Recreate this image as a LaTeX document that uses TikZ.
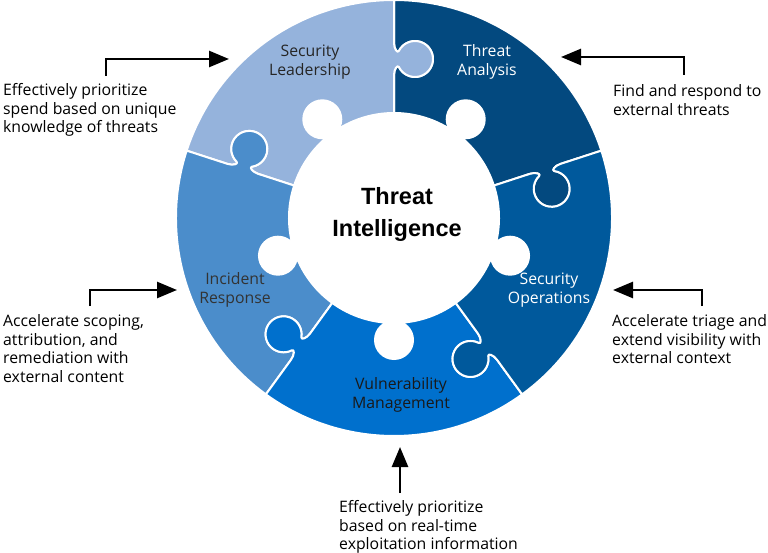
\documentclass[tikz,border=0pt]{standalone}
\usepackage{fontspec}
\setmainfont{Open Sans}
\newfontfamily\headfont{Liberation Sans}
\usetikzlibrary{arrows.meta}
\definecolor{leadblue}{HTML}{95B3DC}
\definecolor{analysisblue}{HTML}{03497F}
\definecolor{opsblue}{HTML}{00599C}
\definecolor{vulnblue}{HTML}{0070CD}
\definecolor{incidentblue}{HTML}{4B8DCB}
% one ring piece: #1 = clockwise edge angle, #2 = colour
\newcommand\puzzlepiece[2]{%
\filldraw[piece,fill=#2]
 {[shift={(394,-218)},rotate=#1] (105,0)--(143,0)
   .. controls (149,0) and (153.7,-3.55) .. (151,-4.88)
   arc[start angle=116.4,end angle=423.6,radius=18]
   .. controls (164.3,-3.55) and (169,0) .. (175,0)--(218,0)}
 arc[start angle=#1,end angle=#1+72,radius=218]
 {[shift={(394,-218)},rotate=#1+72] --(175,0)
   .. controls (169,0) and (164.3,-3.55) .. (167,-4.88)
   arc[start angle=63.6,end angle=-243.6,radius=18]
   .. controls (153.7,-3.55) and (149,0) .. (143,0)--(105,0)}
 arc[start angle=#1+72,end angle=#1,radius=105]--cycle;}
\begin{document}
\begin{tikzpicture}[x=1pt,y=1pt,>={Triangle[length=20pt,width=16pt]},
  piece/.style={draw=white,line width=2pt,line join=round},
  lab/.style={align=center,inner sep=0pt,font=\fontsize{15.8}{19}\selectfont},
  note/.style={align=left,anchor=north west,inner sep=0pt,font=\fontsize{15.8}{18.8}\selectfont},
  arr/.style={->,line width=2.6pt}]
\useasboundingbox (0,0) rectangle (768,-553);
\coordinate (C) at (394,-218);
% ring
\puzzlepiece{18}{analysisblue}
\puzzlepiece{90}{leadblue}
\puzzlepiece{162}{incidentblue}
\puzzlepiece{234}{vulnblue}
\puzzlepiece{306}{opsblue}
% knobs of the centre piece
\foreach \a in {54,126,198,270,342}{
  \fill[white] (C) ++(\a:122) circle[radius=20];
  \fill[white,shift={(C)},rotate=\a] (100,-15) .. controls (105,-13) .. (106,-10)
    -- (106,10) .. controls (105,13) .. (100,15) -- cycle;}
\node[font=\headfont\bfseries\fontsize{23.5}{32}\selectfont,align=center] (title) at (397,-214) {Threat\\Intelligence};
\node[lab,text=black!85] (slL) at (310,-62) {Security\\Leadership};
\node[lab,white] (taL) at (487,-62) {Threat\\Analysis};
\node[lab,text=black!80] (irL) at (235,-290) {Incident\\Response};
\node[lab,white] (soL) at (549,-290) {Security\\Operations};
\node[lab,text=black!90] (vmL) at (401,-395) {Vulnerability\\Management};
% notes and arrows
\node[note] (nSL) at (3,-83) {Effectively prioritize\\spend based on unique\\knowledge of threats};
\node[note] (nTA) at (613,-84) {Find and respond to\\external threats};
\node[note] (nIR) at (3,-314) {Accelerate scoping,\\attribution, and\\remediation with\\external content};
\node[note] (nSO) at (612,-314) {Accelerate triage and\\extend visibility with\\external context};
\node[note] (nVM) at (339,-500) {Effectively prioritize\\based on real-time\\exploitation information};
\coordinate (tSL) at (229,-59);
\coordinate (tTA) at (561,-57);
\coordinate (tIR) at (177,-290);
\coordinate (tSO) at (613,-290);
\coordinate (tVM) at (400,-447);
\draw[arr] ([xshift=103pt,yshift=7pt]nSL.north west) |- (tSL);
\draw[arr] ([xshift=71pt,yshift=9pt]nTA.north west) |- (tTA);
\draw[arr] ([xshift=87pt,yshift=8pt]nIR.north west) |- (tIR);
\draw[arr] ([xshift=90pt,yshift=8pt]nSO.north west) |- (tSO);
\draw[arr] ([xshift=61pt,yshift=7pt]nVM.north west) -- (tVM);
\end{tikzpicture}
\end{document}
